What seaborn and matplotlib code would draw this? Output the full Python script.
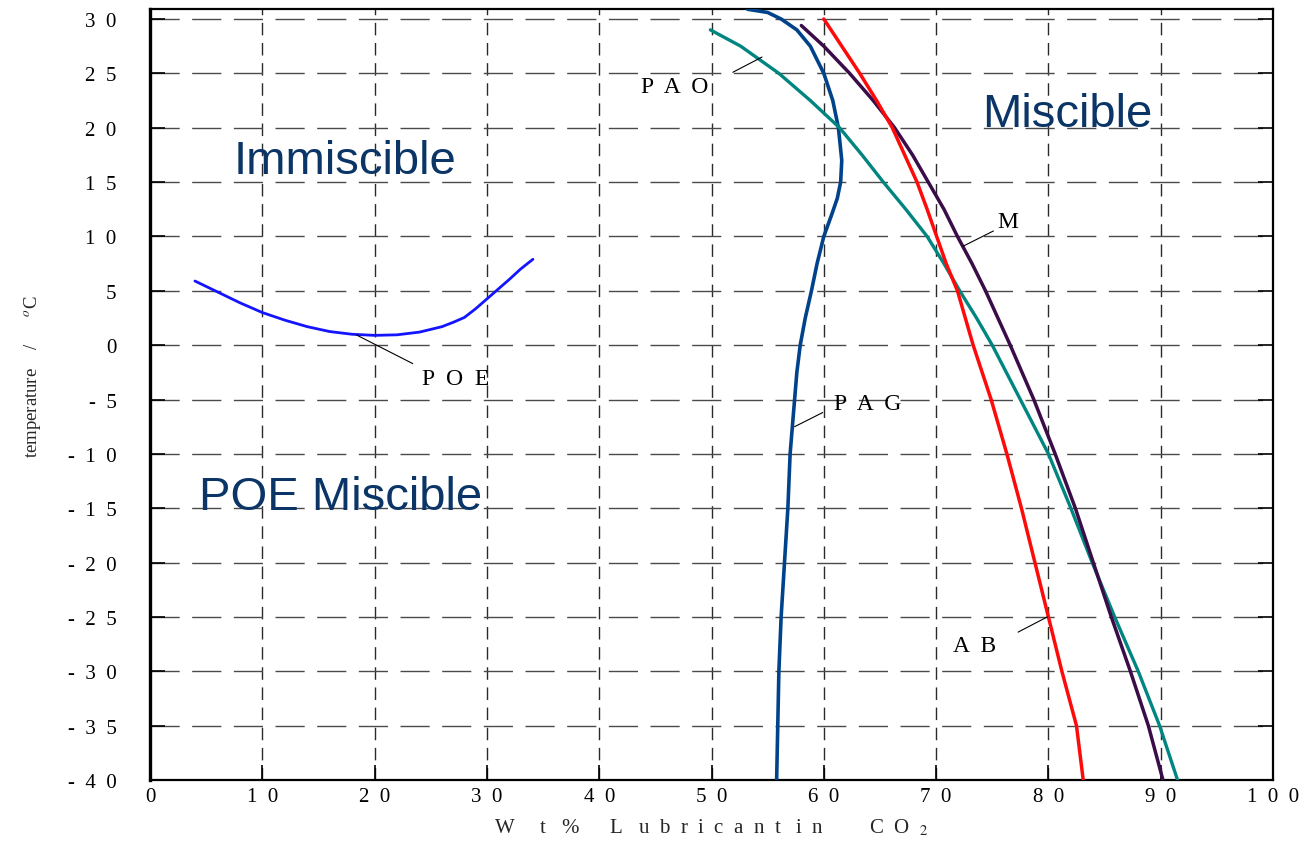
import matplotlib
matplotlib.use("Agg")
import matplotlib.pyplot as plt
import matplotlib.transforms as mtransforms
import pandas as pd
import seaborn as sns

# ---------------- data ----------------
poe_wt = [4.0, 5.0, 6.0, 7.0, 8.0, 9.0, 10.0, 12.0, 14.0, 16.0, 18.0, 20.0, 22.0, 24.0,
          26.0, 27.0, 28.0, 29.0, 30.0, 31.0, 32.0, 33.0, 34.1]
poe_t = [5.9, 5.4, 4.9, 4.4, 3.9, 3.45, 3.0, 2.3, 1.7, 1.25, 1.0, 0.9, 0.95, 1.2,
         1.7, 2.1, 2.55, 3.35, 4.25, 5.15, 6.05, 7.0, 7.9]

pag_wt = [53.2, 55.0, 56.2, 57.6, 58.8, 60.0, 60.8, 61.3, 61.6, 61.5, 61.2, 60.7, 60.0, 59.4,
          58.9, 58.35, 57.9, 57.6, 57.4, 57.0, 56.8, 56.5, 56.2, 56.0, 55.9, 55.8]
pag_t = [30.9, 30.6, 30.0, 29.0, 27.5, 25.0, 22.5, 20.0, 17.0, 15.0, 13.5, 12.0, 10.0, 7.5,
         5.0, 2.5, 0.0, -2.5, -5.0, -10.0, -15.0, -20.0, -25.0, -30.0, -35.0, -40.0]

pao_wt = [49.9, 52.6, 56.0, 58.8, 61.4, 63.4, 65.3, 67.3, 69.2, 70.7, 72.1, 73.6, 75.0,
          77.5, 80.0, 82.0, 83.9, 85.9, 88.0, 89.9, 91.5]
pao_t = [29.0, 27.5, 25.0, 22.5, 20.0, 17.5, 15.0, 12.5, 10.0, 7.5, 5.0, 2.5, 0.0,
         -5.0, -10.0, -15.0, -20.0, -25.0, -30.0, -35.0, -40.0]

m_wt = [58.0, 60.0, 62.3, 64.4, 66.3, 67.9, 69.3, 70.7, 71.9, 73.2, 74.4, 75.5, 76.6,
        78.7, 80.6, 82.4, 84.0, 85.6, 87.3, 88.9, 90.2]
m_t = [29.4, 27.5, 25.0, 22.5, 20.0, 17.5, 15.0, 12.5, 10.0, 7.5, 5.0, 2.5, 0.0,
       -5.0, -10.0, -15.0, -20.0, -25.0, -30.0, -35.0, -40.0]

ab_wt = [60.0, 61.6, 63.2, 64.7, 66.1, 67.2, 68.3, 69.2, 70.05, 70.9, 71.9, 72.6, 73.3,
         74.9, 76.3, 77.6, 78.8, 80.0, 81.2, 82.5, 83.1]
ab_t = [30.0, 27.5, 25.0, 22.5, 20.0, 17.5, 15.0, 12.5, 10.0, 7.5, 5.0, 2.5, 0.0,
        -5.0, -10.0, -15.0, -20.0, -25.0, -30.0, -35.0, -40.0]

x_ticks = [0, 10, 20, 30, 40, 50, 60, 70, 80, 90, 100]
y_ticks = [-40, -35, -30, -25, -20, -15, -10, -5, 0, 5, 10, 15, 20, 25, 30]

curve_names = ["POE", "PAG", "PAO", "M", "AB"]
curve_colors = ["#1414ff", "#00438a", "#008580", "#3a0c48", "#ff0a0a"]
curve_widths = [2.0, 2.6, 2.4, 2.5, 2.5]

# label text, label position, leader start, leader end
label_texts = ["P  A  O", "P  O  E", "P  A  G", "M", "A  B"]
label_pos = [(46.7, 23.3), (27.2, -3.6), (63.9, -5.9), (76.4, 10.9), (73.4, -28.1)]
leader_from = [(51.9, 25.1), (23.4, -1.7), (59.9, -6.2), (75.1, 10.5), (77.3, -26.4)]
leader_to = [(54.5, 26.5), (18.4, 0.93), (57.4, -7.5), (72.4, 9.1), (79.9, -25.0)]

region_texts = ["Immiscible", "Miscible", "POE Miscible"]
region_pos = [(17.4, 15.85), (81.7, 20.15), (17.0, -15.1)]

x_label = "W     t   %      L   u  b  r  i  c  a  n  t   i  n         C  O  ${}_{2}$"
y_label = "temperature    /      $^{o}$C"

# ---------------- figure ----------------
sns.set_style("white")
plt.rcParams["font.family"] = ["Liberation Serif", "DejaVu Serif"]
plt.rcParams["mathtext.fontset"] = "stix"

fig = plt.figure(figsize=(13.04, 8.45), dpi=100)
ax = fig.add_axes([150 / 1304, 1 - 781 / 845, 1123 / 1304, 771 / 845])

series = [(poe_wt, poe_t), (pag_wt, pag_t), (pao_wt, pao_t), (m_wt, m_t), (ab_wt, ab_t)]
for name, (wx, ty), col, lw in zip(curve_names, series, curve_colors, curve_widths):
    df = pd.DataFrame({"wt": wx, "temp": ty})
    sns.lineplot(data=df, x="wt", y="temp", sort=False, estimator=None,
                 color=col, linewidth=lw, ax=ax, zorder=3)

ax.set_xlim(0, 100)
ax.set_ylim(-40, 30.92)

ax.set_xticks(x_ticks)
ax.set_xticklabels(["  ".join(str(v)) for v in x_ticks], fontsize=15)
ax.set_yticks(y_ticks)
ax.set_yticklabels(["  ".join(str(v)) for v in y_ticks], fontsize=15)

# the reference's x tick labels sit a few pixels left of their ticks
shift = mtransforms.ScaledTranslation(-4 / 100, 0, fig.dpi_scale_trans)
for lab in ax.get_xticklabels():
    lab.set_transform(lab.get_transform() + shift)

ax.set_axisbelow(True)
ax.xaxis.grid(True, color="#2a2a2a", linewidth=1.0, linestyle=(0, (9, 5.5)))
ax.yaxis.grid(True, color="#4a4a4a", linewidth=1.0, linestyle=(0, (21, 9)))

ax.tick_params(axis="y", direction="in", length=11, width=1.2, left=True, right=True,
               pad=24, colors="black")
ax.tick_params(axis="x", direction="in", length=11, width=1.2, bottom=True, top=False,
               pad=5, colors="black")

for side, w in [("left", 2.4), ("bottom", 1.6), ("top", 1.6), ("right", 1.6)]:
    ax.spines[side].set_visible(True)
    ax.spines[side].set_color("black")
    ax.spines[side].set_linewidth(w)

ax.set_xlabel(x_label, fontsize=15)
ax.xaxis.set_label_coords(0.5, -0.048)
ax.set_ylabel(y_label, fontsize=13.5)
ax.yaxis.set_label_coords(-0.094, 0.525)

for txt, pos, p0, p1 in zip(label_texts, label_pos, leader_from, leader_to):
    ax.text(pos[0], pos[1], txt, ha="center", va="baseline", fontsize=17, color="black", zorder=4)
    ax.annotate("", xy=p1, xytext=p0,
                arrowprops=dict(arrowstyle="-", color="black", lw=0.8, shrinkA=0, shrinkB=0),
                zorder=4)

for txt, pos in zip(region_texts, region_pos):
    ax.text(pos[0], pos[1], txt, ha="center", va="baseline", fontsize=34,
            family="Liberation Sans", color="#0a3566", zorder=4)

fig.savefig("out.png", dpi=100)
